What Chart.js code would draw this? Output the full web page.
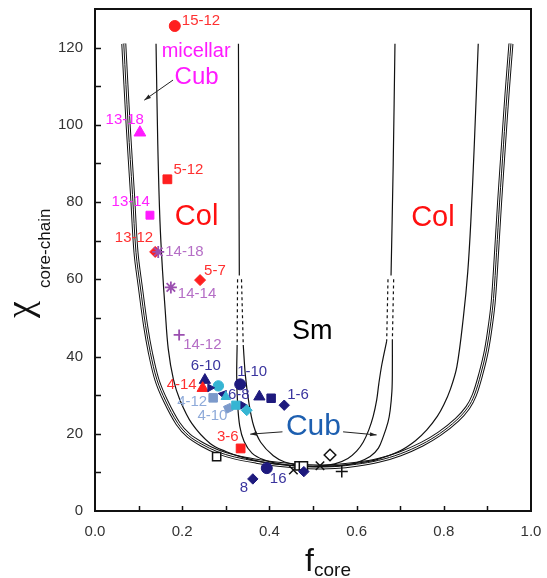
<!DOCTYPE html>
<html>
<head>
<meta charset="utf-8">
<script src="https://cdn.jsdelivr.net/npm/chart.js@4"></script>
<style>
  html, body { margin: 0; padding: 0; background: #fff; }
  canvas { display: block; }
</style>
</head>
<body>
<canvas id="phaseChart" width="547" height="578"></canvas>
<script>
// Phase boundaries as [f_core, chi]
const micellarEdge = [
  [0.066, 121], [0.076, 100], [0.086, 82], [0.094, 67], [0.104, 58], [0.116, 48],
  [0.127, 41], [0.142, 34], [0.162, 28.5], [0.19, 22.7], [0.215, 19.5], [0.245, 17.3],
  [0.28, 15.4], [0.32, 14.0], [0.37, 12.9], [0.42, 12.1], [0.47, 11.6], [0.51, 11.4],
  [0.55, 11.5], [0.60, 12.1], [0.65, 13.1], [0.70, 14.8], [0.75, 17.3], [0.79, 20],
  [0.83, 23.6], [0.855, 26.8], [0.87, 30], [0.885, 35.5], [0.898, 41.7], [0.908, 49],
  [0.914, 55], [0.921, 67], [0.928, 80], [0.937, 95], [0.945, 108], [0.954, 121]
];
const colEdge = [
  [0.14, 121], [0.144, 95], [0.149, 75], [0.155, 62], [0.161, 52], [0.168, 42],
  [0.18, 34], [0.195, 28.7], [0.222, 22.7], [0.264, 17.5], [0.30, 15.4], [0.333, 14.1],
  [0.38, 12.8], [0.43, 12.0], [0.48, 11.6], [0.53, 11.6], [0.57, 11.9], [0.608, 12.5],
  [0.646, 13.3], [0.70, 15.6], [0.735, 18.2], [0.761, 21], [0.785, 24.5], [0.80, 27.5],
  [0.815, 31.5], [0.83, 37.4], [0.845, 50.3], [0.855, 62], [0.862, 75], [0.87, 95], [0.879, 121]
];
const smLeftTop = [[0.329, 121], [0.330, 90], [0.331, 61]];
const smLeftDashA = [[0.327, 60], [0.326, 43]];
const smLeftDashB = [[0.336, 60], [0.340, 43]];
const smRightTop = [[0.688, 121], [0.684, 90], [0.679, 61]];
const smRightDashA = [[0.672, 60], [0.669, 44]];
const smRightDashB = [[0.685, 60], [0.682, 44]];
const cubOuter = [
  [0.326, 43], [0.325, 35], [0.327, 28], [0.332, 22], [0.342, 18], [0.36, 15], [0.386, 13.3],
  [0.42, 12.3], [0.46, 11.7], [0.50, 11.5], [0.54, 11.6], [0.57, 11.9], [0.60, 12.5],
  [0.631, 14.1], [0.65, 16.3], [0.661, 19.2], [0.672, 23], [0.677, 26.1], [0.681, 31],
  [0.682, 36], [0.682, 44]
];
const cubInner = [
  [0.340, 43], [0.345, 35], [0.353, 28], [0.364, 22], [0.38, 17.8], [0.409, 14.3],
  [0.435, 12.7], [0.47, 11.8], [0.51, 11.6], [0.55, 12.2], [0.58, 13.6], [0.60, 15.5],
  [0.615, 17.8], [0.628, 21], [0.638, 24.5], [0.646, 28.7], [0.651, 33], [0.658, 38], [0.669, 44]
];

// Samples (labelled ones first, then unlabelled markers)
const sampleNames = ['15-12', '13-18', '5-12', '13-14', '13-12', '14-18', '5-7', '14-14', '14-12',
  '6-10', '4-14', '1-10', '1-6', '6-8', '4-12', '4-10', '3-6', '16', '8',
  '', '', '', '', '', '', '', '', '', '', '', '', '', '', '', ''];
const sampleF = [0.183, 0.103, 0.166, 0.126, 0.138, 0.145, 0.241, 0.174, 0.193,
  0.252, 0.247, 0.333, 0.434, 0.339, 0.271, 0.306, 0.334, 0.394, 0.362,
  0.283, 0.264, 0.294, 0.300, 0.377, 0.404, 0.323, 0.348, 0.279, 0.455, 0.468, 0.478, 0.479, 0.516, 0.539, 0.566];
const sampleChi = [125.6, 98.0, 85.9, 76.6, 67.1, 67.1, 59.8, 57.9, 45.6,
  33.9, 31.8, 32.8, 27.4, 27.4, 29.3, 26.6, 16.2, 11.1, 8.3,
  32.4, 31.9, 30.2, 29.6, 29.6, 29.2, 27.4, 26.1, 14.1, 10.6, 11.7, 11.7, 10.2, 11.7, 14.5, 10.2];

// Axis ticks
const xTickStep = 0.1;
const yTickStep = 10;

// ---- styling ----
const FONT = '"Liberation Sans", Arial, Helvetica, sans-serif';
const RED = '#ff1f1f', MAG = '#ff1aff', PURP = '#9b4fb0', NAVY = '#1e1a7e',
      LBLUE = '#7c9acb', CYAN = '#36b5d3', INK = '#111';
const textColor = { red: '#ff3030', mag: '#ff22ff', purp: '#b56ec6', navy: '#3a349e', lblue: '#8eaad9' };

const kinds = {
  redCircle:   { s: 'circle',   r: 5.5, fill: RED,   line: RED,   t: 'red' },
  redSquare:   { s: 'rect',     r: 6.2, fill: RED,   line: RED,   t: 'red' },
  redDiamond:  { s: 'rectRot',  r: 5.5, fill: RED,   line: RED,   t: 'red' },
  redTri:      { s: 'triangle', r: 6.5, fill: RED,   line: RED,   t: 'red' },
  magTri:      { s: 'triangle', r: 6.8, fill: MAG,   line: MAG,   t: 'mag' },
  magSquare:   { s: 'rect',     r: 5.6, fill: MAG,   line: MAG,   t: 'mag' },
  purpStar:    { s: 'star',     r: 6,   fill: PURP,  line: PURP,  t: 'purp', w: 1.8 },
  purpPlus:    { s: 'cross',    r: 5.5, fill: PURP,  line: PURP,  t: 'purp', w: 1.8 },
  navyTri:     { s: 'triangle', r: 6.5, fill: NAVY,  line: NAVY,  t: 'navy' },
  navyArrow:   { s: 'triangle', r: 4.5, fill: NAVY,  line: NAVY,  t: 'navy', rot: 90 },
  navyTriDown: { s: 'triangle', r: 5,   fill: NAVY,  line: NAVY,  t: 'navy', rot: 160 },
  navyCircle:  { s: 'circle',   r: 5.5, fill: NAVY,  line: NAVY,  t: 'navy' },
  navySquare:  { s: 'rect',     r: 6,   fill: NAVY,  line: NAVY,  t: 'navy' },
  navyDiamond: { s: 'rectRot',  r: 5.2, fill: NAVY,  line: NAVY,  t: 'navy' },
  lblueSquare: { s: 'rect',     r: 6,   fill: LBLUE, line: LBLUE, t: 'lblue' },
  lblueDiamond:{ s: 'rectRot',  r: 5.2, fill: LBLUE, line: LBLUE, t: 'lblue', rot: 20 },
  cyanCircle:  { s: 'circle',   r: 5.2, fill: CYAN,  line: CYAN,  t: 'navy' },
  cyanTri:     { s: 'triangle', r: 5.5, fill: CYAN,  line: CYAN,  t: 'navy' },
  cyanSquare:  { s: 'rect',     r: 5.8, fill: CYAN,  line: CYAN,  t: 'navy' },
  cyanDiamond: { s: 'rectRot',  r: 5.5, fill: CYAN,  line: CYAN,  t: 'navy' },
  openSquare:  { s: 'rect',     r: 5.8, fill: '#fff', line: INK,  t: 'navy', w: 1.5 },
  openDiamond: { s: 'rectRot',  r: 5.8, fill: '#fff', line: INK,  t: 'navy', w: 1.5 },
  blackX:      { s: 'crossRot', r: 6,   fill: INK,   line: INK,   t: 'navy', w: 1.5 },
  blackPlus:   { s: 'cross',    r: 6,   fill: INK,   line: INK,   t: 'navy', w: 1.5 }
};
const markerKind = ['redCircle', 'magTri', 'redSquare', 'magSquare', 'redDiamond', 'purpStar', 'redDiamond', 'purpStar', 'purpPlus',
  'navyTri', 'redTri', 'navyCircle', 'navyDiamond', 'navyArrow', 'lblueSquare', 'lblueDiamond', 'redSquare', 'navyCircle', 'navyDiamond',
  'cyanCircle', 'navyArrow', 'navyTriDown', 'cyanTri', 'navyTri', 'navySquare', 'cyanSquare', 'cyanDiamond',
  'openSquare', 'blackX', 'openSquare', 'openSquare', 'navyDiamond', 'blackX', 'openDiamond', 'blackPlus'];

// label placement relative to its marker (px) and alignment
const labelAt = {
  '15-12': [7, -5, 'left'],  '13-18': [4, -13, 'right'], '5-12': [6, -9, 'left'],
  '13-14': [0, -13, 'right'], '13-12': [-2, -14, 'right'], '14-18': [7, 0, 'left'],
  '5-7': [4, -9, 'left'],   '14-14': [7, 6, 'left'],    '14-12': [4, 10, 'left'],
  '6-10': [1, -14, 'center'], '4-14': [-6, -3, 'right'], '1-10': [-3, -12, 'left'],
  '1-6': [3, -10, 'left'],  '6-8': [-4, -10, 'center'], '4-12': [-6, 4, 'right'],
  '4-10': [-1, 8, 'right'], '3-6': [-2, -12, 'right'],  '16': [3, 11, 'left'], '8': [-9, 9, 'center']
};

const toXY = pts => pts.map(p => ({ x: p[0], y: p[1] }));

function curve(pts, extra) {
  return Object.assign({
    data: toXY(pts), showLine: true, pointRadius: 0, borderColor: INK,
    borderWidth: 1.2, tension: 0.35, order: 10, fill: false
  }, extra || {});
}

const datasets = [
  // triple line: black wide, white inner, black centre
  curve(micellarEdge, { borderWidth: 5, order: 14 }),
  curve(micellarEdge, { borderWidth: 3, borderColor: '#fff', order: 13 }),
  curve(micellarEdge, { borderWidth: 1, order: 12 }),
  curve(colEdge),
  curve(smLeftTop),
  curve(smRightTop),
  curve(smLeftDashA, { borderDash: [3, 3] }),
  curve(smLeftDashB, { borderDash: [3, 3] }),
  curve(smRightDashA, { borderDash: [3, 3] }),
  curve(smRightDashB, { borderDash: [3, 3] }),
  curve(cubOuter),
  curve(cubInner),
  {
    data: sampleF.map((f, i) => ({ x: f, y: sampleChi[i] })),
    showLine: false,
    order: 0,
    pointStyle: markerKind.map(k => kinds[k].s),
    pointRadius: markerKind.map(k => kinds[k].r),
    pointBackgroundColor: markerKind.map(k => kinds[k].fill),
    pointBorderColor: markerKind.map(k => kinds[k].line),
    pointBorderWidth: markerKind.map(k => kinds[k].w || 1),
    pointRotation: markerKind.map(k => kinds[k].rot || 0)
  }
];

// region text, in data units
const regionTexts = [
  { t: 'micellar', f: 0.232, c: 119.1, size: 20, color: MAG },
  { t: 'Cub', f: 0.233, c: 112.4, size: 24, color: MAG },
  { t: 'Col', f: 0.233, c: 76.1, size: 29, color: '#ff1010' },
  { t: 'Col', f: 0.775, c: 75.9, size: 29, color: '#ff1010' },
  { t: 'Sm', f: 0.498, c: 46.6, size: 27, color: '#000' },
  { t: 'Cub', f: 0.501, c: 21.8, size: 30, color: '#1d5fb0' }
];
const arrows = [
  { from: [0.179, 111.6], to: [0.113, 106.4] },
  { from: [0.430, 20.5], to: [0.356, 19.9] },
  { from: [0.569, 20.5], to: [0.646, 19.7] }
];

const decorPlugin = {
  id: 'decor',
  afterDatasetsDraw(chart) {
    const { ctx, scales: { x, y } } = chart;
    const meta = chart.getDatasetMeta(datasets.length - 1);
    ctx.save();
    ctx.font = '15px ' + FONT;
    ctx.textBaseline = 'middle';
    sampleNames.forEach((name, i) => {
      if (!name) return;
      const el = meta.data[i];
      const p = labelAt[name];
      ctx.fillStyle = textColor[kinds[markerKind[i]].t];
      ctx.textAlign = p[2];
      ctx.fillText(name, el.x + p[0], el.y + p[1]);
    });
    regionTexts.forEach(r => {
      ctx.font = r.size + 'px ' + FONT;
      ctx.fillStyle = r.color;
      ctx.textAlign = 'center';
      ctx.fillText(r.t, x.getPixelForValue(r.f), y.getPixelForValue(r.c));
    });
    ctx.strokeStyle = '#222';
    ctx.fillStyle = '#222';
    ctx.lineWidth = 1;
    arrows.forEach(a => {
      const x0 = x.getPixelForValue(a.from[0]), y0 = y.getPixelForValue(a.from[1]);
      const x1 = x.getPixelForValue(a.to[0]), y1 = y.getPixelForValue(a.to[1]);
      const ang = Math.atan2(y1 - y0, x1 - x0);
      ctx.beginPath(); ctx.moveTo(x0, y0); ctx.lineTo(x1, y1); ctx.stroke();
      ctx.beginPath();
      ctx.moveTo(x1, y1);
      ctx.lineTo(x1 - 7 * Math.cos(ang - 0.3), y1 - 7 * Math.sin(ang - 0.3));
      ctx.lineTo(x1 - 7 * Math.cos(ang + 0.3), y1 - 7 * Math.sin(ang + 0.3));
      ctx.closePath(); ctx.fill();
    });
    ctx.restore();
  },
  afterDraw(chart) {
    const { ctx, chartArea: a, scales: { x, y } } = chart;
    ctx.save();
    ctx.strokeStyle = '#111';
    ctx.lineWidth = 2;
    ctx.strokeRect(a.left, a.top, a.right - a.left, a.bottom - a.top);
    // inward ticks
    ctx.lineWidth = 1.5;
    ctx.beginPath();
    y.ticks.forEach(t => {
      const py = Math.round(y.getPixelForValue(t.value)) + 0.5;
      if (t.value <= 0 || t.value >= 130) return;
      ctx.moveTo(a.left, py); ctx.lineTo(a.left + 6, py);
    });
    x.ticks.forEach(t => {
      const px = Math.round(x.getPixelForValue(t.value)) + 0.5;
      if (t.value <= 0 || t.value >= 1) return;
      ctx.moveTo(px, a.bottom); ctx.lineTo(px, a.bottom - 5);
    });
    ctx.stroke();

    // axis titles
    ctx.fillStyle = '#111';
    ctx.textBaseline = 'alphabetic';
    ctx.textAlign = 'left';
    ctx.save();
    ctx.translate(32, 318);
    ctx.rotate(-Math.PI / 2);
    ctx.font = '38px "Liberation Serif", "DejaVu Serif", serif';
    ctx.fillText('χ', 0, 0);
    ctx.font = '17px ' + FONT;
    ctx.fillText('core-chain', 30, 18);
    ctx.restore();

    ctx.font = '32px ' + FONT;
    ctx.fillText('f', 305, 571);
    ctx.font = '19px ' + FONT;
    ctx.fillText('core', 314, 576);
    ctx.restore();
  }
};

// drop the label-overflow padding so the plot box sits where the picture has it
function noOverflow(s) {
  s.paddingTop = 0; s.paddingBottom = 0; s.paddingLeft = 0; s.paddingRight = 0;
}

new Chart(document.getElementById('phaseChart'), {
  type: 'scatter',
  data: { datasets },
  options: {
    responsive: false,
    animation: false,
    devicePixelRatio: 1,
    layout: { padding: { left: 0, top: 9, right: 16, bottom: 0 } },
    plugins: { legend: { display: false }, tooltip: { enabled: false } },
    scales: {
      x: {
        type: 'linear', min: 0, max: 1.0,
        grid: { display: false, drawTicks: false },
        border: { display: false },
        afterFit(s) { s.height = 67; noOverflow(s); },
        ticks: {
          stepSize: xTickStep, padding: 12, color: '#333',
          font: { family: FONT, size: 15 },
          callback: v => (Math.round(v * 10) % 2 === 0 ? v.toFixed(1) : '')
        }
      },
      y: {
        type: 'linear', min: 0, max: 130,
        grid: { display: false, drawTicks: false },
        border: { display: false },
        afterFit(s) { s.width = 95; noOverflow(s); },
        ticks: {
          stepSize: yTickStep, padding: 12, color: '#333',
          font: { family: FONT, size: 15 },
          callback: v => (v % 20 === 0 && v <= 120 ? String(v) : '')
        }
      }
    }
  },
  plugins: [decorPlugin]
});
</script>
</body>
</html>
